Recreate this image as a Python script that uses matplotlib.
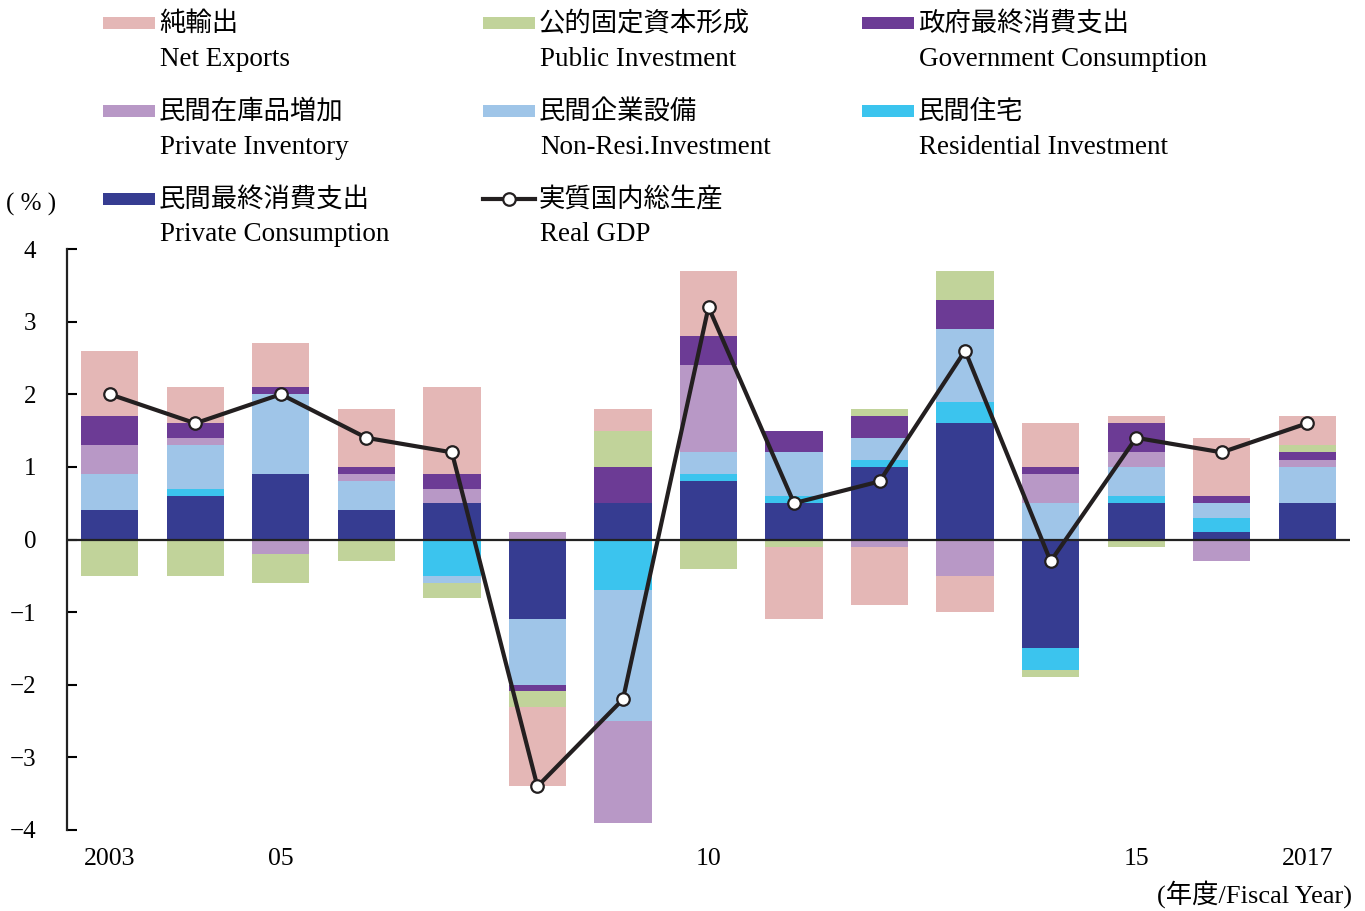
import numpy as np
import matplotlib
matplotlib.use("Agg")
from matplotlib import pyplot as plt
from matplotlib.patches import Rectangle
from matplotlib.lines import Line2D

# 年度
years = [2003, 2004, 2005, 2006, 2007, 2008, 2009, 2010, 2011, 2012, 2013, 2014, 2015, 2016, 2017]
tick_labels = ["2003", "", "05", "", "", "", "", "10", "", "", "", "", "15", "", "2017"]

# 寄与度 (%), stacked from the zero line outward in this order
private_cons = [0.4, 0.6, 0.9, 0.4, 0.5, -1.1, 0.5, 0.8, 0.5, 1.0, 1.6, -1.5, 0.5, 0.1, 0.5]
residential = [0.0, 0.1, 0.0, 0.0, -0.5, 0.0, -0.7, 0.1, 0.1, 0.1, 0.3, -0.3, 0.1, 0.2, 0.0]
non_resi = [0.5, 0.6, 1.1, 0.4, -0.1, -0.9, -1.8, 0.3, 0.6, 0.3, 1.0, 0.5, 0.4, 0.2, 0.5]
inventory = [0.4, 0.1, -0.2, 0.1, 0.2, 0.1, -1.4, 1.2, 0.0, -0.1, -0.5, 0.4, 0.2, -0.3, 0.1]
government = [0.4, 0.2, 0.1, 0.1, 0.2, -0.08, 0.5, 0.4, 0.3, 0.3, 0.4, 0.1, 0.4, 0.1, 0.1]
public_inv = [-0.5, -0.5, -0.4, -0.3, -0.2, -0.22, 0.5, -0.4, -0.1, 0.1, 0.4, -0.1, -0.1, 0.0, 0.1]
net_exports = [0.9, 0.5, 0.6, 0.8, 1.2, -1.1, 0.3, 0.9, -1.0, -0.8, -0.5, 0.6, 0.1, 0.8, 0.4]
real_gdp = [2.0, 1.6, 2.0, 1.4, 1.2, -3.4, -2.2, 3.2, 0.5, 0.8, 2.6, -0.3, 1.4, 1.2, 1.6]

series = [private_cons, residential, non_resi, inventory, government, public_inv, net_exports]
colors = ["#363c91", "#3bc4ee", "#9fc5e8", "#b898c6", "#6c3b95", "#c1d39a", "#e4b7b6"]

jp = ["Noto Sans CJK JP", "DejaVu Sans"]
en = ["Liberation Serif", "Noto Sans CJK JP"]

W, H = 1365, 911
fig = plt.figure(figsize=(W / 100, H / 100), dpi=100)
ax = fig.add_axes([67 / W, 1 - 830 / H, (1350 - 67) / W, (830 - 249) / H])

x = np.arange(len(years))
pos_bottom = np.zeros(len(years))
neg_bottom = np.zeros(len(years))
for vals, c in zip(series, colors):
    v = np.array(vals)
    p = np.where(v > 0, v, 0)
    n = np.where(v < 0, v, 0)
    ax.bar(x, p, 0.67, bottom=pos_bottom, color=c, edgecolor="none", zorder=2)
    ax.bar(x, n, 0.67, bottom=neg_bottom, color=c, edgecolor="none", zorder=2)
    pos_bottom += p
    neg_bottom += n

ax.axhline(0, color="#222222", lw=1.6, zorder=3)
ax.plot(x, real_gdp, "-o", color="#231f20", lw=3, ms=9, mfc="white",
        mec="#231f20", mew=1.6, zorder=4)

ax.set_xlim(-0.5, 14.5)
ax.set_ylim(-4, 4)
ax.set_yticks(range(-4, 5))
ax.set_yticklabels([str(v).replace("-", "\u2212") for v in range(-4, 5)],
                   family=en, fontsize=18)
ax.set_xticks(x)
ax.set_xticklabels(tick_labels, family=en, fontsize=18.5)
ax.tick_params(axis="x", length=0, pad=13)
ax.tick_params(axis="y", direction="in", length=7, width=1.5, pad=22)
for s in ["top", "right", "bottom"]:
    ax.spines[s].set_visible(False)
ax.spines["left"].set_linewidth(1.6)
ax.spines["left"].set_color("#222222")


def fx(px):
    return px / W


def fy(py):
    return 1 - py / H


fig.text(fx(6), fy(204), "( % )", family=en, fontsize=18, va="center", ha="left")
fig.text(fx(1352), fy(894), "(年度/Fiscal Year)", family=en, fontsize=19,
         va="center", ha="right")

legend_items = [
    ("純輸出", "Net Exports", colors[6]),
    ("公的固定資本形成", "Public Investment", colors[5]),
    ("政府最終消費支出", "Government Consumption", colors[4]),
    ("民間在庫品増加", "Private Inventory", colors[3]),
    ("民間企業設備", "Non-Resi.Investment", colors[2]),
    ("民間住宅", "Residential Investment", colors[1]),
    ("民間最終消費支出", "Private Consumption", colors[0]),
    ("実質国内総生産", "Real GDP", None),
]
col_x = [103, 483, 862]
row_y = [23, 111, 199]
for i, (jtxt, etxt, c) in enumerate(legend_items):
    cx = col_x[i % 3]
    ry = row_y[i // 3]
    if c is not None:
        fig.add_artist(Rectangle((fx(cx), fy(ry + 6)), 52 / W, 12 / H,
                                 transform=fig.transFigure, color=c, lw=0))
    else:
        fig.add_artist(Line2D([fx(cx), fx(cx + 52)], [fy(ry), fy(ry)],
                              transform=fig.transFigure, color="#231f20", lw=3))
        fig.add_artist(Line2D([fx(cx + 26)], [fy(ry)], transform=fig.transFigure,
                              marker="o", ms=9, mfc="white", mec="#231f20", mew=1.6))
    fig.text(fx(cx + 56), fy(ry), jtxt, family=jp, fontsize=19, va="center", ha="left")
    fig.text(fx(cx + 57), fy(ry + 36), etxt, family=en, fontsize=19.5, va="center", ha="left")

fig.savefig("out.png", dpi=100)
